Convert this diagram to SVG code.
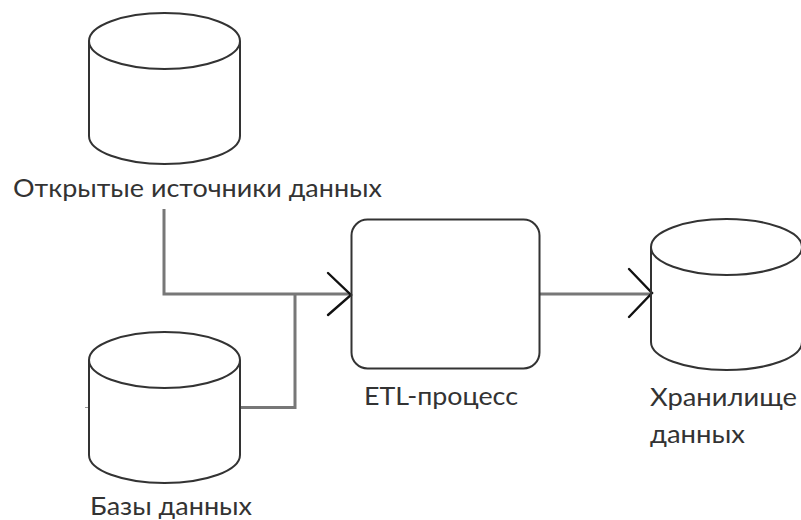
<svg xmlns="http://www.w3.org/2000/svg" width="801" height="520" viewBox="0 0 801 520">
<style>
.s{fill:none;stroke:#333;stroke-width:2}
.c{fill:none;stroke:#777;stroke-width:3}
.h{fill:none;stroke:#111;stroke-width:2.4;stroke-linecap:round}
text{font-family:"Lato","Open Sans","Noto Sans","Liberation Sans",sans-serif;font-size:25px;fill:#333}
</style>
<defs>
<g id="cyl"><path class="s" d="M0 28A75.500 28 0 0 1 151 28A75.500 28 0 0 1 0 28V123A75.500 28 0 0 0 151 123V28"/></g>
</defs>
<rect width="801" height="520" fill="#fff"/>
<g id="connectors">
<path class="c" d="M164 209V294H350"/>
<path class="c" d="M241 407.500H295V295"/>
<path class="c" d="M540 294H651"/>
<path class="h" d="M328 273L351 295L328 315"/>
<path class="h" d="M629 269L652 293L629 317"/>
<path d="M85 407.500H89" fill="none" stroke="#999" stroke-width="1"/>
</g>
<g id="source-open"><use href="#cyl" x="89" y="13"/><text x="13" y="197" textLength="369" lengthAdjust="spacingAndGlyphs">Открытые источники данных</text></g>
<g id="source-db"><use href="#cyl" x="89" y="332"/><text x="90" y="515" textLength="162" lengthAdjust="spacingAndGlyphs">Базы данных</text></g>
<g id="etl"><rect class="s" x="351.500" y="219.500" width="188" height="149" rx="16"/><text x="364" y="405" textLength="154" lengthAdjust="spacingAndGlyphs">ETL-процесс</text></g>
<g id="warehouse"><use href="#cyl" x="651" y="219"/><text x="650" y="406" textLength="147" lengthAdjust="spacingAndGlyphs">Хранилище</text><text x="650" y="443" textLength="95" lengthAdjust="spacingAndGlyphs">данных</text></g>
</svg>
